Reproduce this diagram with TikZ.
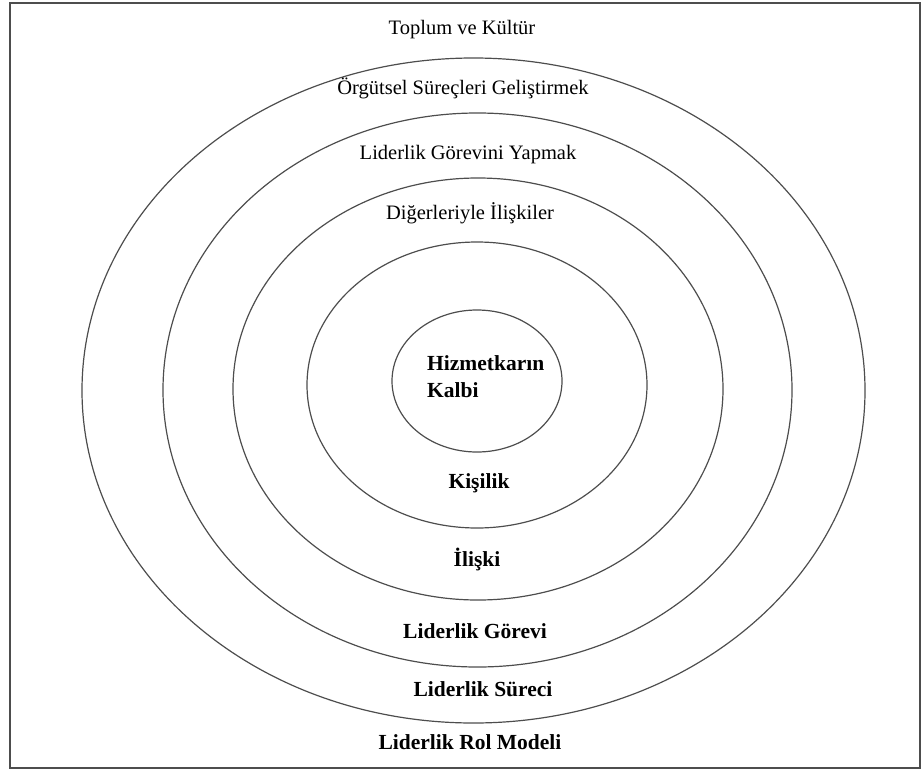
\documentclass[tikz,border=0pt]{standalone}
\usepackage{fontspec}
\setmainfont{Liberation Serif}
\definecolor{linegray}{HTML}{4D4D4D}

\begin{document}
\begin{tikzpicture}[x=1pt,y=-1pt,
  ring/.style={draw=linegray, line width=1.2pt},
  ringtext/.style={font=\fontsize{20.5}{27}\selectfont, anchor=base, inner sep=0pt},
  coretext/.style={ringtext, font=\fontsize{21.5}{27}\selectfont\bfseries}]
  \useasboundingbox (0,0) rectangle (923,771);
  % frame
  \draw[linegray, line width=1.5pt] (10,3) rectangle (920,768);
  % rings, outer to inner
  \foreach \cx/\cy/\rx/\ry [count=\i] in {473.5/390.5/391.5/332.5,
      477.5/390/314.5/277, 478/389/245/211, 477/385/170/143, 477/381/85/71}
    \draw[ring] (\cx,\cy) coordinate (c\i) ellipse [x radius=\rx, y radius=\ry];
  % upper labels
  \node[ringtext] (society) at (462,34) {Toplum ve Kültür};
  \node[ringtext] (develop) at (463,94) {Örgütsel Süreçleri Geliştirmek};
  \node[ringtext] (perform) at (468,159) {Liderlik Görevini Yapmak};
  \node[ringtext] (others)  at (470,219) {Diğerleriyle İlişkiler};
  % core and lower labels
  \node[coretext, anchor=west, align=left] (heart) at (427,377) {Hizmetkarın\\Kalbi};
  \node[coretext] (character) at (479,488) {Kişilik};
  \node[coretext] (relation)  at (477,566) {İlişki};
  \node[coretext] (task)      at (475,638) {Liderlik Görevi};
  \node[coretext] (process)   at (483,696) {Liderlik Süreci};
  \node[coretext] (rolemodel) at (470,749) {Liderlik Rol Modeli};
\end{tikzpicture}
\end{document}
